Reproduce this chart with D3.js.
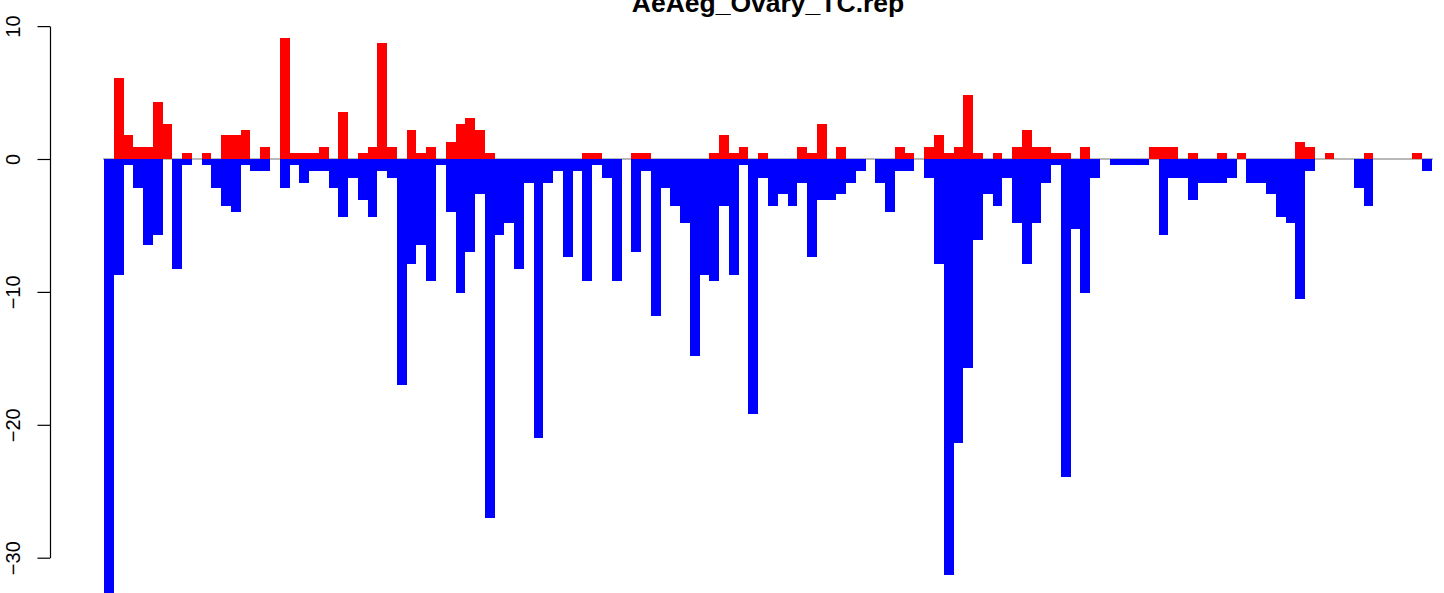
<!DOCTYPE html>
<html>
<head>
<meta charset="utf-8">
<script src="https://cdn.jsdelivr.net/npm/d3@7"></script>
<style>
  body { margin: 0; background: #fff; }
  svg { display: block; font-family: "Liberation Sans", Arial, sans-serif; }
</style>
</head>
<body>
<svg id="chart" width="1444" height="593"></svg>
<script>
const width = 1444;
const height = 593;

const title = "AeAeg_Ovary_TC.rep";

// red (up) and blue (down) values per bin
const upValues = [
  0, 6.1, 1.8, 0.9, 0.9, 4.3, 2.6, 0, 0.45, 0,
  0.45, 0, 1.8, 1.8, 2.2, 0, 0.9, 0, 9.1, 0.45,
  0.45, 0.45, 0.9, 0, 3.5, 0, 0.45, 0.9, 8.7, 0.9,
  0, 2.2, 0.45, 0.9, 0, 1.3, 2.6, 3.1, 2.2, 0.45,
  0, 0, 0, 0, 0, 0, 0, 0, 0, 0.45,
  0.45, 0, 0, 0, 0.45, 0.45, 0, 0, 0, 0,
  0, 0, 0.45, 1.8, 0.45, 0.9, 0, 0.45, 0, 0,
  0, 0.9, 0.45, 2.6, 0, 0.9, 0, 0, 0, 0,
  0, 0.9, 0.45, 0, 0.9, 1.8, 0.45, 0.9, 4.8, 0.45,
  0, 0.45, 0, 0.9, 2.2, 0.9, 0.9, 0.45, 0.45, 0,
  0.9, 0, 0, 0, 0, 0, 0, 0.9, 0.9, 0.9,
  0, 0.45, 0, 0, 0.45, 0, 0.45, 0, 0, 0,
  0, 0, 1.3, 0.9, 0, 0.45, 0, 0, 0, 0.45,
  0, 0, 0, 0, 0.45, 0
];

const downValues = [
  -32.7, -8.7, -0.45, -2.2, -6.5, -5.7, 0, -8.3, -0.45, 0,
  -0.45, -2.2, -3.5, -4.0, -0.45, -0.9, -0.9, 0, -2.2, -0.45,
  -1.8, -0.9, -0.9, -2.2, -4.4, -1.4, -3.1, -4.4, -0.9, -1.4,
  -17.0, -7.9, -6.5, -9.2, -0.45, -4.0, -10.1, -7.0, -2.6, -27.0,
  -5.7, -4.8, -8.3, -1.8, -21.0, -1.8, -0.9, -7.4, -0.9, -9.2,
  -0.45, -1.4, -9.2, 0, -7.0, -0.9, -11.8, -2.2, -3.5, -4.8,
  -14.8, -8.7, -9.2, -3.5, -8.7, -0.45, -19.2, -1.4, -3.5, -2.6,
  -3.5, -1.8, -7.4, -3.1, -3.1, -2.6, -1.8, -0.9, 0, -1.8,
  -4.0, -0.9, -0.9, 0, -1.4, -7.9, -31.3, -21.4, -15.7, -6.1,
  -2.6, -3.5, -1.4, -4.8, -7.9, -4.8, -1.8, -0.45, -23.9, -5.3,
  -10.1, -1.4, 0, -0.45, -0.45, -0.45, -0.45, 0, -5.7, -1.4,
  -1.4, -3.1, -1.8, -1.8, -1.8, -1.4, 0, -1.8, -1.8, -2.6,
  -4.4, -4.8, -10.5, -0.9, 0, 0, 0, 0, -2.2, -3.5,
  0, 0, 0, 0, 0, -0.9
];

const yTicks = [10, 0, -10, -20, -30];

const svg = d3.select("svg#chart");

const x = d3.scaleBand()
  .domain(d3.range(upValues.length))
  .range([104, 1432])
  .padding(0);

const y = d3.scaleLinear()
  .domain([-30, 10])
  .range([557.7, 26.1]);

// zero line behind the bars
svg.append("line")
  .attr("x1", 103)
  .attr("x2", 1433)
  .attr("y1", y(0))
  .attr("y2", y(0))
  .attr("stroke", "#a0a0a0")
  .attr("stroke-width", 1.5);

svg.append("g")
  .attr("fill", "#0000ff")
  .attr("shape-rendering", "crispEdges")
  .selectAll("rect")
  .data(downValues.map((v, i) => ({ i, v })).filter(d => d.v < 0))
  .join("rect")
  .attr("x", d => x(d.i))
  .attr("width", x.bandwidth())
  .attr("y", y(0))
  .attr("height", d => y(d.v) - y(0));

svg.append("g")
  .attr("fill", "#ff0000")
  .attr("shape-rendering", "crispEdges")
  .selectAll("rect")
  .data(upValues.map((v, i) => ({ i, v })).filter(d => d.v > 0))
  .join("rect")
  .attr("x", d => x(d.i))
  .attr("width", x.bandwidth())
  .attr("y", d => y(d.v))
  .attr("height", d => y(0) - y(d.v));

// y axis, R style: labels parallel to the axis
const axis = svg.append("g")
  .attr("transform", "translate(50,0)")
  .call(d3.axisLeft(y).tickValues(yTicks).tickSize(12.5).tickSizeOuter(0));

axis.select(".domain").attr("stroke", "#000").attr("stroke-width", 1.2);
axis.selectAll(".tick line").attr("stroke", "#000").attr("stroke-width", 1.2);
axis.selectAll(".tick text")
  .attr("x", null)
  .attr("dy", null)
  .attr("text-anchor", "middle")
  .attr("transform", "translate(-30,0) rotate(-90)")
  .attr("fill", "#000")
  .style("font-size", "20px")
  .style("font-family", "'Liberation Sans', Arial, sans-serif");

svg.append("text")
  .attr("x", (104 + 1432) / 2)
  .attr("y", 12.3)
  .attr("text-anchor", "middle")
  .style("font-size", "26.5px")
  .style("font-weight", "bold")
  .text(title);
</script>
</body>
</html>
